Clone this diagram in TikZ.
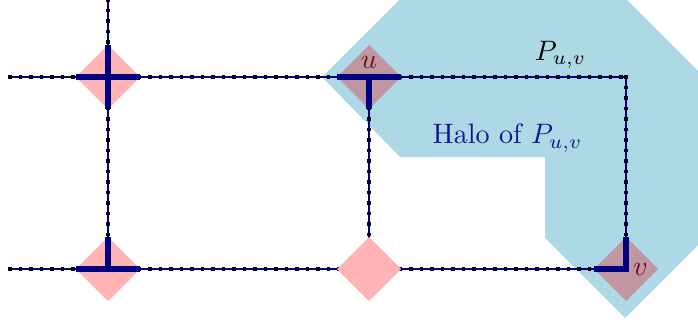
\documentclass[tikz,border=0pt]{standalone}
\usetikzlibrary{shapes.geometric,decorations.markings,positioning}
\definecolor{navyline}{RGB}{0,0,128}
\definecolor{halofill}{RGB}{173,216,230}
\definecolor{terminal}{RGB}{255,179,179}
\definecolor{terminalhalo}{RGB}{192,150,160}
\definecolor{halotext}{RGB}{20,20,140}
\definecolor{vertext}{RGB}{110,15,25}
\begin{document}
\begin{tikzpicture}[
  gridline/.style={draw=navyline,line width=0.45pt,postaction={decorate},
    decoration={markings,mark=between positions 0 and 1 step 0.13125cm with
      {\fill[black!80!navyline] (-0.024,-0.024) rectangle (0.024,0.024);}}},
  pathline/.style={draw=navyline,line width=1.8pt},
  terminalbox/.style={diamond,fill=terminal,minimum width=0.8cm,minimum height=0.8cm,
    inner sep=0pt,outer sep=0pt},
  vertlabel/.style={text=vertext}]
\useasboundingbox (0,0) rectangle (8.725,4.0625);

% grid points
\coordinate (a) at (1.35,3.1);
\coordinate (u) at (4.6125,3.1);
\coordinate (c) at (7.825,3.1);
\coordinate (b) at (1.35,0.7);
\coordinate (m) at (4.6125,0.7);
\coordinate (v) at (7.825,0.7);
\coordinate (l1) at (0.125,3.1);
\coordinate (l2) at (0.125,0.7);
\coordinate (t) at (1.35,4.0625);

% halo
\fill[halofill] (4.025,3.1) -- (4.9875,4.0625) -- (7.8375,4.0625) -- (8.725,3.175)
  -- (8.725,1.0) -- (7.8125,0.0875) -- (6.8125,1.0875) -- (6.8125,2.1) -- (5.0,2.1) -- cycle;

\draw[gridline] (l1) -- (a);
\draw[gridline] (a) -- (u);
\draw[gridline] (u) -- (c);
\draw[gridline] (c) -- (v);
\draw[gridline] (t) -- (a);
\draw[gridline] (a) -- (b);
\draw[gridline] (u) -- (m);
\draw[gridline] (l2) -- (b);
\draw[gridline] (b) -- (m);
\draw[gridline] (m) -- (v);

% terminals
\node[terminalbox] (ta) at (a) {};
\node[terminalbox] (tb) at (b) {};
\node[terminalbox] (tm) at (m) {};
\node[terminalbox,fill=terminalhalo] (tu) at (u) {};
\node[terminalbox,fill=terminalhalo] (tv) at (v) {};

\draw[pathline] (ta.west) -- (ta.east);
\draw[pathline] (ta.north) -- (ta.south);
\draw[pathline] (tb.west) -- (tb.east);
\draw[pathline] (tb.north) -- (b);
\draw[pathline] (tu.west) -- (tu.east);
\draw[pathline] (u) -- (tu.south);
\draw[pathline] (tv.west) -- (v) -- (tv.north);

\node[vertlabel,above=-0.5pt of u] (lu) {$u$};
\node[vertlabel,right=-1pt of v] (lv) {$v$};
\node (lp) at (7.006,3.38) {$P_{u,v}$};
\node[text=halotext] (lh) at (6.345,2.3375) {Halo of $P_{u,v}$};
\end{tikzpicture}
\end{document}
